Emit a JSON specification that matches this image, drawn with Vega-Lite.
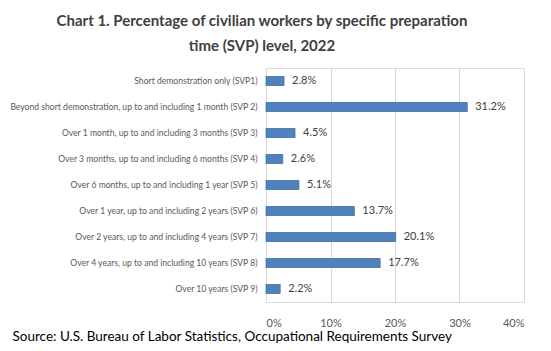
{
  "$schema": "https://vega.github.io/schema/vega-lite/v6.json",
  "width": 258,
  "height": 234,
  "autosize": {"type": "none"},
  "padding": {"left": 266, "top": 68, "right": 27, "bottom": 49},
  "background": "white",
  "title": {
    "text": ["Chart 1. Percentage of civilian workers by specific preparation", "time (SVP) level, 2022"],
    "font": "Lato",
    "fontSize": 15,
    "fontWeight": "bold",
    "color": "#404040",
    "anchor": "middle",
    "dx": -133,
    "offset": 14,
    "lineHeight": 25
  },
  "data": {
    "values": [
      {"level": "Short demonstration only (SVP1)", "share": 0.028},
      {"level": "Beyond short demonstration, up to and including 1 month (SVP 2)", "share": 0.312},
      {"level": "Over 1 month, up to and including 3 months (SVP 3)", "share": 0.045},
      {"level": "Over 3 months, up to and including 6 months (SVP 4)", "share": 0.026},
      {"level": "Over 6 months, up to and including 1 year (SVP 5)", "share": 0.051},
      {"level": "Over 1 year, up to and including 2 years (SVP 6)", "share": 0.137},
      {"level": "Over 2 years, up to and including 4 years (SVP 7)", "share": 0.201},
      {"level": "Over 4 years, up to and including 10 years (SVP 8)", "share": 0.177},
      {"level": "Over 10 years (SVP 9)", "share": 0.022}
    ]
  },
  "encoding": {
    "y": {
      "field": "level",
      "type": "nominal",
      "sort": null,
      "scale": {"paddingInner": 0.6, "paddingOuter": 0.3},
      "axis": {
        "title": null,
        "ticks": false,
        "labelPadding": 9,
        "labelFont": "Lato",
        "labelFontSize": 8.6,
        "labelColor": "#595959",
        "labelLimit": 300,
        "domainColor": "#d9d9d9",
        "grid": false
      }
    },
    "x": {
      "field": "share",
      "type": "quantitative",
      "scale": {"domain": [0, 0.4]},
      "axis": {
        "format": ".0%",
        "values": [0, 0.1, 0.2, 0.3, 0.4],
        "ticks": false,
        "domain": false,
        "grid": true,
        "gridColor": "#d9d9d9",
        "labelFont": "Lato",
        "labelFontSize": 11,
        "labelColor": "#595959",
        "labelPadding": 15,
        "title": "Source: U.S. Bureau of Labor Statistics, Occupational Requirements Survey",
        "titleFont": "Lato",
        "titleFontSize": 13.5,
        "titleFontWeight": "normal",
        "titleColor": "#000000",
        "titleAnchor": "start",
        "titleAlign": "left",
        "titleBaseline": "alphabetic",
        "titleX": -254,
        "titleY": 38
      }
    }
  },
  "layer": [
    {
      "mark": {"type": "bar", "size": 9, "color": "#4f81bd", "stroke": "#41719c", "strokeWidth": 0.8}
    },
    {
      "mark": {"type": "text", "align": "left", "dx": 8, "font": "Lato", "fontSize": 11, "color": "#404040"},
      "encoding": {"text": {"field": "share", "type": "quantitative", "format": ".1%"}}
    }
  ]
}
